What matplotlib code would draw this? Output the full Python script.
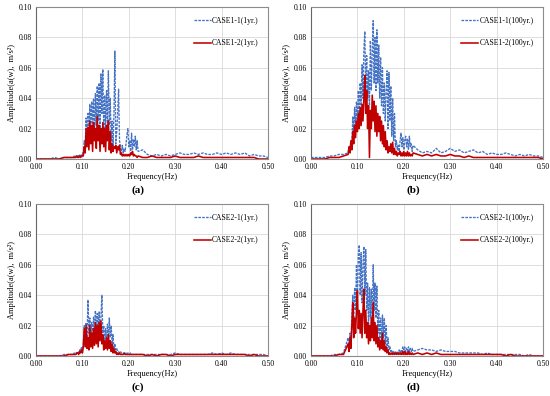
import matplotlib
matplotlib.use('Agg')
import matplotlib.pyplot as plt
import numpy as np

# frequency grid: coarse below 0.08 Hz, fine in the peak band, coarse tail
freq = np.concatenate([np.linspace(0.0, 0.07, 8),
                       np.linspace(0.08, 0.22, 71),
                       np.linspace(0.23, 0.50, 28)])

# amplitudes (m/s^2)
amp_case1_1_1yr = [
    0.000, 0.000, 0.000, 0.000, 0.001, 0.000, 0.001, 0.001,
    0.001, 0.002, 0.001, 0.002, 0.002, 0.001, 0.003, 0.002, 0.003, 0.002,
    0.004, 0.003, 0.012, 0.008, 0.027, 0.012, 0.030, 0.015, 0.036, 0.018,
    0.038, 0.020, 0.040, 0.016, 0.043, 0.022, 0.048, 0.025, 0.050, 0.020,
    0.056, 0.030, 0.059, 0.018, 0.042, 0.020, 0.045, 0.025, 0.058, 0.022,
    0.040, 0.012, 0.025, 0.008, 0.030, 0.071, 0.010, 0.018, 0.030, 0.046,
    0.012, 0.008, 0.005, 0.009, 0.004, 0.007, 0.005, 0.010, 0.016, 0.020,
    0.008, 0.012, 0.005, 0.017, 0.006, 0.013, 0.008, 0.015, 0.006, 0.012,
    0.005,
    0.006, 0.003, 0.002, 0.003, 0.002, 0.003, 0.002,
    0.003, 0.004, 0.003, 0.003, 0.004, 0.003, 0.004, 0.003, 0.003, 0.004,
    0.003, 0.004, 0.003, 0.004, 0.003, 0.004, 0.002, 0.003, 0.002, 0.002, 0.001]

amp_case1_2_1yr = [
    0.000, 0.000, 0.000, 0.000, 0.000, 0.000, 0.001, 0.001,
    0.001, 0.001, 0.001, 0.001, 0.002, 0.001, 0.001, 0.002, 0.001, 0.002,
    0.002, 0.002, 0.008, 0.004, 0.020, 0.008, 0.021, 0.006, 0.025, 0.010,
    0.022, 0.005, 0.024, 0.012, 0.020, 0.007, 0.028, 0.012, 0.022, 0.005,
    0.020, 0.010, 0.024, 0.008, 0.020, 0.005, 0.022, 0.012, 0.025, 0.006,
    0.018, 0.004, 0.010, 0.005, 0.008, 0.007, 0.009, 0.004, 0.008, 0.006,
    0.009, 0.003, 0.004, 0.002, 0.003, 0.002, 0.003, 0.002, 0.003, 0.002,
    0.003, 0.002, 0.004, 0.003, 0.005, 0.002, 0.003, 0.002, 0.002, 0.001,
    0.002,
    0.001, 0.001, 0.002, 0.001, 0.001, 0.001, 0.001,
    0.002, 0.001, 0.001, 0.001, 0.001, 0.002, 0.001, 0.001, 0.001, 0.001,
    0.001, 0.001, 0.001, 0.001, 0.001, 0.001, 0.001, 0.001, 0.000, 0.000, 0.000]

amp_case1_1_100yr = [
    0.001, 0.001, 0.001, 0.001, 0.002, 0.002, 0.003, 0.003,
    0.004, 0.008, 0.006, 0.012, 0.010, 0.028, 0.018, 0.034, 0.020, 0.038,
    0.025, 0.045, 0.030, 0.050, 0.035, 0.062, 0.040, 0.072, 0.084, 0.045,
    0.068, 0.040, 0.058, 0.035, 0.078, 0.045, 0.070, 0.091, 0.050, 0.080,
    0.045, 0.085, 0.050, 0.075, 0.040, 0.067, 0.035, 0.060, 0.030, 0.050,
    0.025, 0.045, 0.058, 0.020, 0.057, 0.025, 0.048, 0.015, 0.040, 0.012,
    0.030, 0.008, 0.012, 0.006, 0.009, 0.005, 0.012, 0.017, 0.008, 0.014,
    0.006, 0.012, 0.015, 0.008, 0.013, 0.006, 0.015, 0.008, 0.010, 0.005,
    0.009,
    0.006, 0.004, 0.005, 0.004, 0.007, 0.004, 0.005,
    0.007, 0.005, 0.006, 0.004, 0.005, 0.006, 0.004, 0.005, 0.003, 0.004,
    0.003, 0.003, 0.004, 0.003, 0.002, 0.003, 0.002, 0.003, 0.002, 0.002, 0.001]

amp_case1_2_100yr = [
    0.000, 0.000, 0.000, 0.000, 0.001, 0.001, 0.001, 0.002,
    0.003, 0.008, 0.004, 0.012, 0.006, 0.018, 0.010, 0.022, 0.014, 0.025,
    0.018, 0.030, 0.020, 0.034, 0.022, 0.036, 0.025, 0.040, 0.055, 0.030,
    0.045, 0.020, 0.035, 0.001, 0.032, 0.020, 0.042, 0.025, 0.038, 0.018,
    0.035, 0.015, 0.030, 0.018, 0.028, 0.012, 0.025, 0.010, 0.022, 0.008,
    0.018, 0.006, 0.012, 0.004, 0.008, 0.005, 0.010, 0.004, 0.011, 0.003,
    0.007, 0.003, 0.005, 0.002, 0.004, 0.003, 0.005, 0.002, 0.004, 0.002,
    0.005, 0.002, 0.004, 0.002, 0.005, 0.002, 0.004, 0.002, 0.003, 0.002,
    0.004,
    0.003, 0.002, 0.003, 0.002, 0.003, 0.002, 0.002,
    0.003, 0.002, 0.002, 0.001, 0.002, 0.001, 0.001, 0.001, 0.001, 0.001,
    0.001, 0.001, 0.001, 0.001, 0.001, 0.001, 0.001, 0.001, 0.001, 0.001, 0.000]

amp_case2_1_1yr = [
    0.000, 0.000, 0.000, 0.000, 0.000, 0.000, 0.001, 0.001,
    0.001, 0.002, 0.001, 0.002, 0.002, 0.003, 0.002, 0.004, 0.003, 0.006,
    0.004, 0.008, 0.020, 0.010, 0.022, 0.012, 0.037, 0.015, 0.025, 0.012,
    0.022, 0.010, 0.026, 0.014, 0.030, 0.012, 0.028, 0.015, 0.029, 0.012,
    0.026, 0.040, 0.015, 0.020, 0.010, 0.018, 0.008, 0.021, 0.010, 0.025,
    0.012, 0.020, 0.008, 0.014, 0.005, 0.008, 0.004, 0.005, 0.003, 0.003,
    0.002, 0.003, 0.002, 0.002, 0.001, 0.002, 0.001, 0.002, 0.001, 0.002,
    0.002, 0.001, 0.002, 0.001, 0.001, 0.001, 0.001, 0.001, 0.001, 0.001,
    0.001,
    0.001, 0.001, 0.001, 0.001, 0.001, 0.001, 0.001,
    0.002, 0.001, 0.001, 0.001, 0.001, 0.001, 0.001, 0.001, 0.002, 0.001,
    0.002, 0.001, 0.002, 0.001, 0.001, 0.001, 0.001, 0.001, 0.001, 0.001, 0.000]

amp_case2_2_1yr = [
    0.000, 0.000, 0.000, 0.000, 0.000, 0.000, 0.000, 0.001,
    0.001, 0.001, 0.001, 0.001, 0.002, 0.002, 0.001, 0.003, 0.002, 0.004,
    0.002, 0.006, 0.018, 0.006, 0.020, 0.005, 0.012, 0.004, 0.020, 0.006,
    0.015, 0.005, 0.018, 0.007, 0.022, 0.008, 0.020, 0.006, 0.022, 0.010,
    0.023, 0.008, 0.014, 0.004, 0.010, 0.005, 0.012, 0.004, 0.014, 0.005,
    0.010, 0.003, 0.008, 0.002, 0.005, 0.002, 0.003, 0.001, 0.002, 0.001,
    0.002, 0.001, 0.001, 0.001, 0.001, 0.002, 0.001, 0.001, 0.001, 0.001,
    0.001, 0.001, 0.001, 0.001, 0.001, 0.001, 0.001, 0.001, 0.001, 0.001,
    0.001,
    0.001, 0.000, 0.001, 0.000, 0.001, 0.001, 0.000,
    0.001, 0.001, 0.001, 0.001, 0.001, 0.001, 0.001, 0.001, 0.001, 0.001,
    0.001, 0.001, 0.001, 0.001, 0.001, 0.001, 0.000, 0.001, 0.000, 0.000, 0.000]

amp_case2_1_100yr = [
    0.000, 0.000, 0.000, 0.000, 0.000, 0.001, 0.001, 0.002,
    0.012, 0.005, 0.015, 0.008, 0.025, 0.040, 0.020, 0.045, 0.030, 0.060,
    0.035, 0.066, 0.073, 0.040, 0.068, 0.035, 0.060, 0.072, 0.040, 0.070,
    0.030, 0.048, 0.020, 0.045, 0.025, 0.044, 0.020, 0.060, 0.030, 0.048,
    0.025, 0.046, 0.015, 0.030, 0.010, 0.025, 0.008, 0.027, 0.012, 0.025,
    0.008, 0.020, 0.005, 0.012, 0.004, 0.006, 0.003, 0.004, 0.002, 0.003,
    0.002, 0.003, 0.002, 0.003, 0.002, 0.004, 0.002, 0.004, 0.003, 0.006,
    0.004, 0.006, 0.003, 0.005, 0.003, 0.006, 0.003, 0.005, 0.003, 0.005,
    0.003,
    0.004, 0.005, 0.004, 0.004, 0.003, 0.004, 0.003,
    0.003, 0.003, 0.002, 0.002, 0.002, 0.002, 0.002, 0.001, 0.002, 0.001,
    0.001, 0.001, 0.001, 0.001, 0.001, 0.001, 0.000, 0.001, 0.000, 0.000, 0.000]

amp_case2_2_100yr = [
    0.000, 0.000, 0.000, 0.000, 0.000, 0.000, 0.001, 0.001,
    0.008, 0.003, 0.012, 0.005, 0.020, 0.035, 0.012, 0.025, 0.015, 0.030,
    0.043, 0.018, 0.030, 0.015, 0.028, 0.012, 0.030, 0.044, 0.015, 0.030,
    0.012, 0.022, 0.008, 0.020, 0.010, 0.025, 0.012, 0.035, 0.010, 0.022,
    0.008, 0.020, 0.006, 0.012, 0.004, 0.010, 0.005, 0.015, 0.004, 0.010,
    0.003, 0.006, 0.002, 0.004, 0.001, 0.002, 0.001, 0.002, 0.001, 0.002,
    0.001, 0.002, 0.001, 0.002, 0.001, 0.002, 0.001, 0.002, 0.001, 0.003,
    0.001, 0.003, 0.001, 0.002, 0.001, 0.003, 0.001, 0.002, 0.001, 0.002,
    0.001,
    0.002, 0.001, 0.002, 0.001, 0.002, 0.001, 0.001,
    0.001, 0.001, 0.001, 0.001, 0.001, 0.001, 0.001, 0.001, 0.001, 0.001,
    0.001, 0.001, 0.000, 0.001, 0.000, 0.000, 0.000, 0.000, 0.000, 0.000, 0.000]

panel_letters = ['a', 'b', 'c', 'd']
labels_dashed = ['CASE1-1(1yr.)', 'CASE1-1(100yr.)', 'CASE2-1(1yr.)', 'CASE2-1(100yr.)']
labels_solid = ['CASE1-2(1yr.)', 'CASE1-2(100yr.)', 'CASE2-2(1yr.)', 'CASE2-2(100yr.)']
series_dashed = [amp_case1_1_1yr, amp_case1_1_100yr, amp_case2_1_1yr, amp_case2_1_100yr]
series_solid = [amp_case1_2_1yr, amp_case1_2_100yr, amp_case2_2_1yr, amp_case2_2_100yr]
x_ticks = [0.0, 0.1, 0.2, 0.3, 0.4, 0.5]
y_ticks = [0.0, 0.02, 0.04, 0.06, 0.08, 0.10]


def main():
    plt.rcParams['font.family'] = ['Liberation Serif', 'DejaVu Serif']

    W, H = 550, 396
    fig = plt.figure(figsize=(W / 100, H / 100), dpi=100)

    # pixel positions (left, top) of each plot area
    corners = [(36, 7), (311, 7), (36, 204), (311, 204)]
    aw, ah = 232, 152

    for i, (left, top) in enumerate(corners):
        ax = fig.add_axes([left / W, 1 - (top + ah) / H, aw / W, ah / H])

        ax.plot(freq, series_dashed[i], color='#4472C4', lw=0.95,
                ls=(0, (2.0, 0.9)), label=labels_dashed[i])
        ax.plot(freq, series_solid[i], color='#C00000', lw=1.15,
                label=labels_solid[i])

        ax.set_xlim(0, 0.5)
        ax.set_ylim(0, 0.1)
        ax.set_xticks(x_ticks, [f'{t:.2f}' for t in x_ticks])
        ax.set_yticks(y_ticks, [f'{t:.2f}' for t in y_ticks])
        ax.tick_params(length=0, labelsize=5.5, pad=3)
        ax.grid(color='#D9D9D9', lw=0.6)
        ax.set_axisbelow(True)
        for s in ax.spines.values():
            s.set_color('#8C8C8C')
            s.set_linewidth(0.8)
        ax.spines['left'].set_color('#666666')

        ax.set_xlabel('Frequency(Hz)', fontsize=6, labelpad=1)
        ax.set_ylabel('Amplitude(a(w),  m/s²)', fontsize=6, labelpad=2)

        ax.legend(loc='upper right', bbox_to_anchor=(0.99, 0.98), frameon=False,
                  fontsize=5.5, handlelength=2.2, handletextpad=0.2,
                  labelspacing=1.9)

        fig.text((left + 102) / W, 1 - (top + 183) / H, f'({panel_letters[i]})',
                 ha='center', va='center', fontsize=8, fontweight='bold')

    fig.savefig('out.png', dpi=100)


if __name__ == '__main__':
    main()
